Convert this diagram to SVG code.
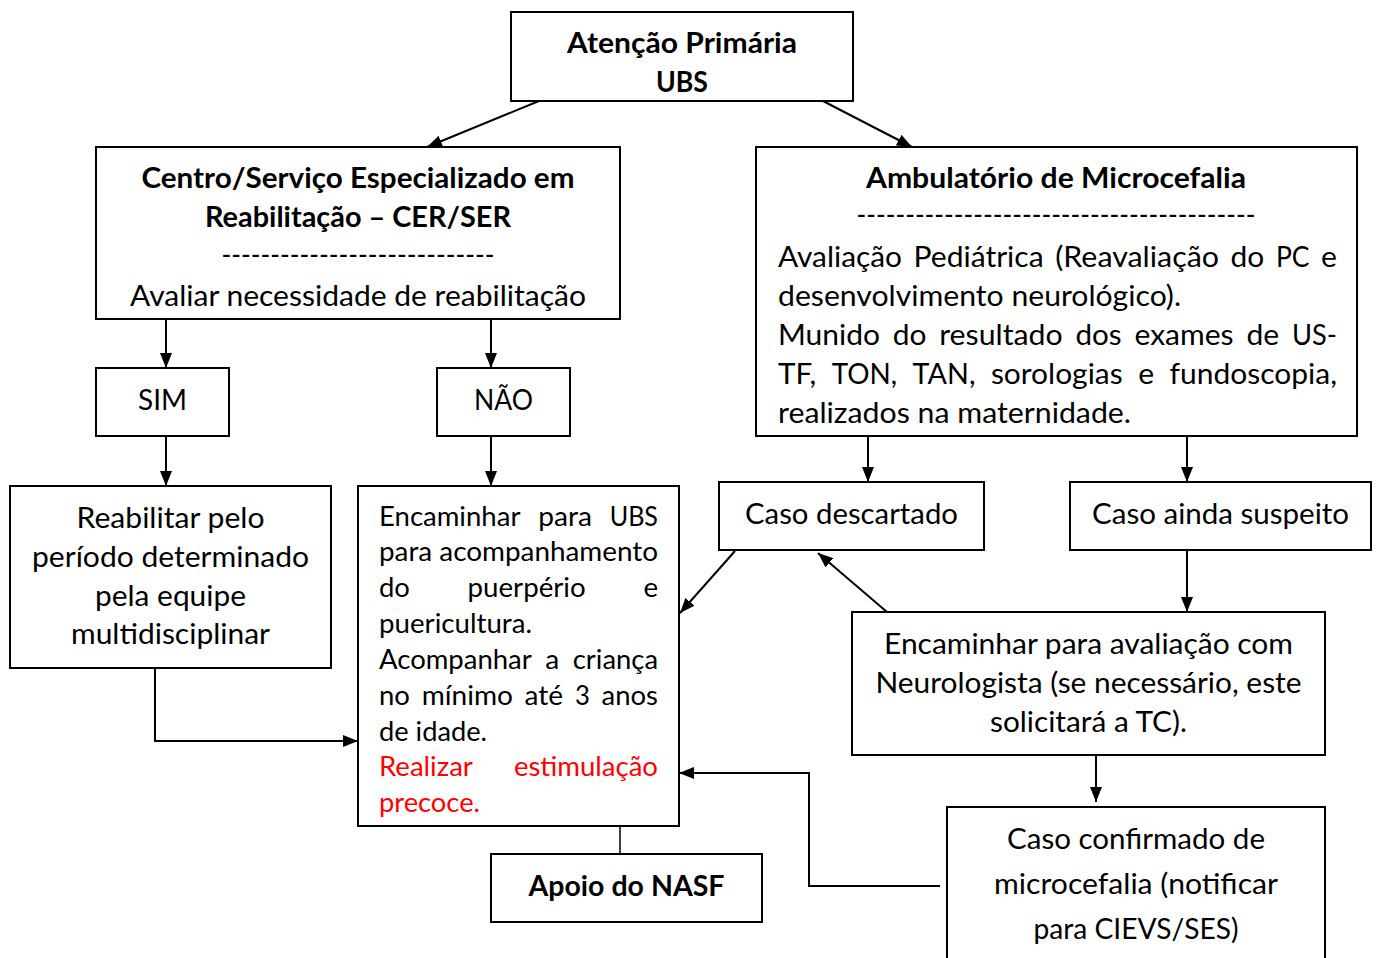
<svg xmlns="http://www.w3.org/2000/svg" width="1376" height="958" viewBox="0 0 1376 958">
<defs>
<style>
.b{fill:#fff;stroke:#000;stroke-width:2}
.t{font-family:Lato,"Open Sans","Liberation Sans",sans-serif;font-size:29px;fill:#000}
.tb{font-family:Lato,"Open Sans","Liberation Sans",sans-serif;font-size:29px;font-weight:bold;fill:#000}
.s{font-family:Lato,"Open Sans","Liberation Sans",sans-serif;font-size:26.4px;fill:#000}
.red{fill:#ff0000}
.m{text-anchor:middle}
.c{fill:none;stroke:#000;stroke-width:2}
text{transform:translate(0px,-1px)}
</style>
<marker id="ah" markerUnits="userSpaceOnUse" markerWidth="15" markerHeight="12" refX="15" refY="6" orient="auto">
<path d="M0,0 L15,6 L0,12 z" fill="#000"/>
</marker>
</defs>
<rect width="1376" height="958" fill="#fff"/>

<g id="connectors">
<path class="c" d="M539,101 L427,147" marker-end="url(#ah)"/>
<path class="c" d="M823,101 L912,147" marker-end="url(#ah)"/>
<path class="c" d="M166,319 V368" marker-end="url(#ah)"/>
<path class="c" d="M491,319 V368" marker-end="url(#ah)"/>
<path class="c" d="M166,436 V486" marker-end="url(#ah)"/>
<path class="c" d="M491,436 V486" marker-end="url(#ah)"/>
<path class="c" d="M868,436 V482" marker-end="url(#ah)"/>
<path class="c" d="M1187,436 V482" marker-end="url(#ah)"/>
<path class="c" d="M735,551 L680,613" marker-end="url(#ah)"/>
<path class="c" d="M887,612 L818,553" marker-end="url(#ah)"/>
<path class="c" d="M1187,550 V612" marker-end="url(#ah)"/>
<path class="c" d="M1096,755 V802" marker-end="url(#ah)"/>
<path class="c" d="M155,668 V741 H358" marker-end="url(#ah)"/>
<path class="c" d="M940,886 H809 V773 H679" marker-end="url(#ah)"/>
<path class="c" d="M620,826 V854" style="stroke-width:1.5"/>
</g>

<g id="atencao">
<rect class="b" x="511" y="12" width="342" height="89"/>
<text class="tb m" x="682" y="54" textLength="230" lengthAdjust="spacingAndGlyphs">Atenção Primária</text>
<text class="tb m" x="682" y="93" textLength="52" lengthAdjust="spacingAndGlyphs">UBS</text>
</g>

<g id="cer">
<rect class="b" x="96" y="147" width="524" height="172"/>
<text class="tb m" x="358" y="189" textLength="433" lengthAdjust="spacingAndGlyphs">Centro/Serviço Especializado em</text>
<text class="tb m" x="358" y="228" textLength="306" lengthAdjust="spacingAndGlyphs">Reabilitação – CER/SER</text>
<text class="t m" x="358" y="266" textLength="273" lengthAdjust="spacingAndGlyphs">----------------------------</text>
<text class="t m" x="358" y="307" textLength="456" lengthAdjust="spacingAndGlyphs">Avaliar necessidade de reabilitação</text>
</g>

<g id="ambulatorio">
<rect class="b" x="756" y="147" width="601" height="289"/>
<text class="tb m" x="1056" y="189" textLength="380" lengthAdjust="spacingAndGlyphs">Ambulatório de Microcefalia</text>
<text class="t m" x="1056" y="226" textLength="399" lengthAdjust="spacingAndGlyphs">-----------------------------------------</text>
<text class="t" x="778" y="268" textLength="124" lengthAdjust="spacingAndGlyphs">Avaliação</text>
<text class="t" x="913.6" y="268" textLength="130" lengthAdjust="spacingAndGlyphs">Pediátrica</text>
<text class="t" x="1055.2" y="268" textLength="163.8" lengthAdjust="spacingAndGlyphs">(Reavaliação</text>
<text class="t" x="1230.6" y="268" textLength="33.7" lengthAdjust="spacingAndGlyphs">do</text>
<text class="t" x="1275.9" y="268" textLength="33.6" lengthAdjust="spacingAndGlyphs">PC</text>
<text class="t" x="1321.1" y="268" textLength="15.9" lengthAdjust="spacingAndGlyphs">e</text>
<text class="t" x="778" y="307" textLength="403" lengthAdjust="spacingAndGlyphs">desenvolvimento neurológico).</text>
<text class="t" x="778" y="346" textLength="102" lengthAdjust="spacingAndGlyphs">Munido</text>
<text class="t" x="892.8" y="346" textLength="33.7" lengthAdjust="spacingAndGlyphs">do</text>
<text class="t" x="939.2" y="346" textLength="123.5" lengthAdjust="spacingAndGlyphs">resultado</text>
<text class="t" x="1075.5" y="346" textLength="46.2" lengthAdjust="spacingAndGlyphs">dos</text>
<text class="t" x="1134.5" y="346" textLength="99.1" lengthAdjust="spacingAndGlyphs">exames</text>
<text class="t" x="1246.4" y="346" textLength="32.7" lengthAdjust="spacingAndGlyphs">de</text>
<text class="t" x="1292" y="346" textLength="45" lengthAdjust="spacingAndGlyphs">US-</text>
<text class="t" x="778" y="385" textLength="38.3" lengthAdjust="spacingAndGlyphs">TF,</text>
<text class="t" x="831.7" y="385" textLength="65.4" lengthAdjust="spacingAndGlyphs">TON,</text>
<text class="t" x="912.6" y="385" textLength="62.8" lengthAdjust="spacingAndGlyphs">TAN,</text>
<text class="t" x="990.9" y="385" textLength="131.8" lengthAdjust="spacingAndGlyphs">sorologias</text>
<text class="t" x="1138.2" y="385" textLength="15.9" lengthAdjust="spacingAndGlyphs">e</text>
<text class="t" x="1169.6" y="385" textLength="167.4" lengthAdjust="spacingAndGlyphs">fundoscopia,</text>
<text class="t" x="778" y="424" textLength="353" lengthAdjust="spacingAndGlyphs">realizados na maternidade.</text>
</g>

<g id="sim">
<rect class="b" x="96" y="368" width="133" height="68"/>
<text class="t m" x="162.5" y="411" textLength="49" lengthAdjust="spacingAndGlyphs">SIM</text>
</g>

<g id="nao">
<rect class="b" x="437" y="368" width="133" height="68"/>
<text class="t m" x="503.5" y="411" textLength="59" lengthAdjust="spacingAndGlyphs">NÃO</text>
</g>

<g id="reabilitar">
<rect class="b" x="10" y="486" width="321" height="182"/>
<text class="t m" x="170.5" y="529" textLength="188" lengthAdjust="spacingAndGlyphs">Reabilitar pelo</text>
<text class="t m" x="170.5" y="568" textLength="277" lengthAdjust="spacingAndGlyphs">período determinado</text>
<text class="t m" x="170.5" y="607" textLength="151" lengthAdjust="spacingAndGlyphs">pela equipe</text>
<text class="t m" x="170.5" y="645" textLength="199" lengthAdjust="spacingAndGlyphs">multidisciplinar</text>
</g>

<g id="encaminhar-ubs">
<rect class="b" x="358" y="486" width="321" height="340"/>
<text class="s" x="379" y="527" textLength="141.4" lengthAdjust="spacingAndGlyphs">Encaminhar</text>
<text class="s" x="538.2" y="527" textLength="53.7" lengthAdjust="spacingAndGlyphs">para</text>
<text class="s" x="609.7" y="527" textLength="48.3" lengthAdjust="spacingAndGlyphs">UBS</text>
<text class="s" x="379" y="562" textLength="279" lengthAdjust="spacingAndGlyphs">para acompanhamento</text>
<text class="s" x="379" y="598" textLength="30.9" lengthAdjust="spacingAndGlyphs">do</text>
<text class="s" x="467.6" y="598" textLength="118.1" lengthAdjust="spacingAndGlyphs">puerpério</text>
<text class="s" x="643.4" y="598" textLength="14.6" lengthAdjust="spacingAndGlyphs">e</text>
<text class="s" x="379" y="634" textLength="153" lengthAdjust="spacingAndGlyphs">puericultura.</text>
<text class="s" x="379" y="670" textLength="152.8" lengthAdjust="spacingAndGlyphs">Acompanhar</text>
<text class="s" x="545.3" y="670" textLength="14" lengthAdjust="spacingAndGlyphs">a</text>
<text class="s" x="572.8" y="670" textLength="85.2" lengthAdjust="spacingAndGlyphs">criança</text>
<text class="s" x="379" y="706" textLength="30.9" lengthAdjust="spacingAndGlyphs">no</text>
<text class="s" x="421.7" y="706" textLength="91.2" lengthAdjust="spacingAndGlyphs">mínimo</text>
<text class="s" x="524.6" y="706" textLength="38.5" lengthAdjust="spacingAndGlyphs">até</text>
<text class="s" x="574.9" y="706" textLength="14.9" lengthAdjust="spacingAndGlyphs">3</text>
<text class="s" x="601.6" y="706" textLength="56.4" lengthAdjust="spacingAndGlyphs">anos</text>
<text class="s" x="379" y="742" textLength="108" lengthAdjust="spacingAndGlyphs">de idade.</text>
<text class="s red" x="379" y="777" textLength="93.9" lengthAdjust="spacingAndGlyphs">Realizar</text>
<text class="s red" x="513.9" y="777" textLength="144.1" lengthAdjust="spacingAndGlyphs">estimulação</text>
<text class="s red" x="379" y="813" textLength="101" lengthAdjust="spacingAndGlyphs">precoce.</text>
</g>

<g id="caso-descartado">
<rect class="b" x="719" y="482" width="265" height="68"/>
<text class="t m" x="851.5" y="525" textLength="213" lengthAdjust="spacingAndGlyphs">Caso descartado</text>
</g>

<g id="caso-suspeito">
<rect class="b" x="1070" y="482" width="301" height="68"/>
<text class="t m" x="1220.5" y="525" textLength="257" lengthAdjust="spacingAndGlyphs">Caso ainda suspeito</text>
</g>

<g id="neurologista">
<rect class="b" x="852" y="612" width="473" height="143"/>
<text class="t m" x="1088.5" y="655" textLength="409" lengthAdjust="spacingAndGlyphs">Encaminhar para avaliação com</text>
<text class="t m" x="1088.5" y="694" textLength="426" lengthAdjust="spacingAndGlyphs">Neurologista (se necessário, este</text>
<text class="t m" x="1088.5" y="733" textLength="197" lengthAdjust="spacingAndGlyphs">solicitará a TC).</text>
</g>

<g id="caso-confirmado">
<rect class="b" x="947" y="807" width="378" height="160"/>
<text class="t m" x="1136" y="850" textLength="258" lengthAdjust="spacingAndGlyphs">Caso confirmado de</text>
<text class="t m" x="1136" y="895" textLength="284" lengthAdjust="spacingAndGlyphs">microcefalia (notificar</text>
<text class="t m" x="1136" y="940" textLength="205" lengthAdjust="spacingAndGlyphs">para CIEVS/SES)</text>
</g>

<g id="nasf">
<rect class="b" x="491" y="854" width="271" height="68"/>
<text class="tb m" x="626.5" y="897" textLength="196" lengthAdjust="spacingAndGlyphs">Apoio do NASF</text>
</g>
</svg>
